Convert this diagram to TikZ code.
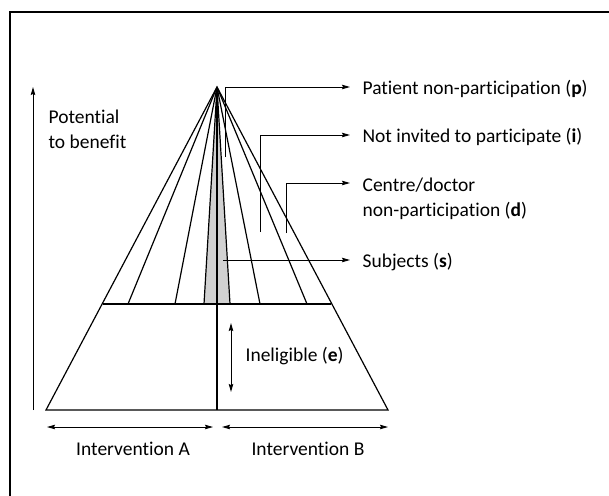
\documentclass[tikz,border=0pt]{standalone}
\usepackage{fontspec}
\setmainfont{Carlito}[Ligatures={NoCommon}]
\usepackage{tikz}
\usetikzlibrary{positioning}
\usetikzlibrary{arrows.meta}

\begin{document}
\begin{tikzpicture}[x=1pt, y=-1pt, line width=1.2pt,
    every node/.style={font=\fontsize{19.5}{25}\selectfont, inner sep=0pt, align=left},
    flecha/.style={-{Stealth[length=8pt, width=4.5pt, inset=1pt]}, line width=1pt},
    doble/.style={{Stealth[length=8pt, width=4.5pt, inset=1pt]}-{Stealth[length=8pt, width=4.5pt, inset=1pt]}, line width=1pt}]
  \useasboundingbox (0,0) rectangle (609,495);
  \clip (0,0) rectangle (609,495);
  \draw[line width=1.5pt] (10,12) rectangle (700,600);

  % Piramide
  \coordinate (apex) at (217,87);
  \coordinate (bl) at (46,410);
  \coordinate (br) at (388,410);
  \coordinate (bm) at (217,410);
  \coordinate (ml) at (102.5,304);
  \coordinate (mr) at (331,304);
  \fill[black!18] (apex) -- (204,304) -- (230,304) -- cycle;
  \foreach \x in {128,175,204,230,260,307}
    \draw (apex) -- (\x,304);
  \draw (apex) -- (bl) -- (br) -- cycle;
  \draw (ml) -- (mr);
  \draw (apex) -- (bm);

  % Etiquetas
  \node[anchor=base west] (p) at (362,94.5) {Patient non-participation (\textbf{p})};
  \node[anchor=base west] (i) at (362,142.5) {Not invited to participate (\textbf{i})};
  \node[anchor=base west] (d) at (362,216) {Centre/doctor\\non-participation (\textbf{d})};
  \node[anchor=base west] (s) at (362,267.5) {Subjects (\textbf{s})};
  \node[anchor=base west] (e) at (245,361) {Ineligible (\textbf{e})};
  \node[anchor=base west] (pot) at (48,148) {Potential\\to benefit};
  \node[anchor=base] (ia) at (133,455) {Intervention A};
  \node[anchor=base] (ib) at (308,455) {Intervention B};

  % Flechas
  \coordinate (pf) at (225,157);  \coordinate (pt) at (350,87);
  \coordinate (if) at (260,232);  \coordinate (it) at (350,135);
  \coordinate (df) at (286,233);  \coordinate (dt) at (350,183);
  \coordinate (sf) at (223,260);  \coordinate (st) at (350,260);
  \draw[flecha] (pf) |- (pt);
  \draw[flecha] (if) |- (it);
  \draw[flecha] (df) |- (dt);
  \draw[flecha] (sf) -- (st);
  \coordinate (e1) at (231,323);  \coordinate (e2) at (231,392);
  \draw[doble] (e1) -- (e2);
  \coordinate (v0) at (33,410);   \coordinate (v1) at (33,87);
  \draw[flecha] (v0) -- (v1);
  \coordinate (a0) at (47,427);   \coordinate (a1) at (213,427);
  \coordinate (b0) at (222,427);  \coordinate (b1) at (388,427);
  \draw[doble] (a0) -- (a1);
  \draw[doble] (b0) -- (b1);
\end{tikzpicture}
\end{document}
